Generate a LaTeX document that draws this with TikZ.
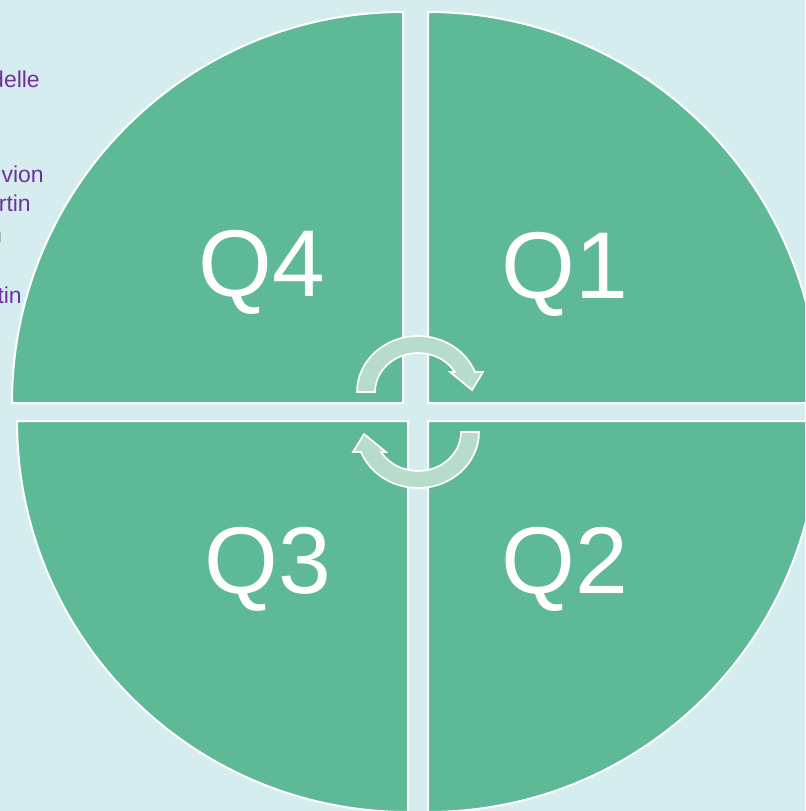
\documentclass[tikz,border=0pt]{standalone}
\usepackage{fontspec}
\setmainfont{Liberation Sans}
\usepackage{xcolor}
\usetikzlibrary{positioning}
\definecolor{cyclebg}{HTML}{D6EDF0}
\definecolor{cyclegreen}{HTML}{5EB996}
\definecolor{cyclelight}{HTML}{B8DCCB}
\definecolor{cyclepurple}{HTML}{7030A0}
\definecolor{cyclegray}{HTML}{808080}
\tikzset{
  quad/.style={fill=cyclegreen,draw=white,line width=0.06cm},
  qlabel/.style={text=white,font=\fontsize{81}{81}\selectfont,inner sep=0pt,anchor=base},
  turnarrow/.style={fill=cyclelight,draw=white,line width=0.05cm},
  sidenote/.style={text=cyclepurple,font=\fontsize{19.6}{22}\selectfont,inner sep=0pt,anchor=base east}
}

\begin{document}
\begin{tikzpicture}[x=0.03cm,y=-0.03cm]
    \useasboundingbox (0,0) rectangle (805,811);
    \fill[cyclebg] (0,0) rectangle (805,811);
    \clip (0,0) rectangle (805,811);
    % notes cut off at the left edge
    \node[sidenote] (note1) at (40,87) {delle};
    \node[sidenote] (note2) at (44,182) {vion};
    \node[sidenote] (note3) at (31,211) {rtin};
    \node[sidenote,text=cyclegray] (note4) at (2.5,242) {n};
    \node[sidenote] (note5) at (22,303) {tin};
    % quarters
    \draw[quad] (403,403) -- (12,403) arc[start angle=180,end angle=270,radius=391] -- cycle;
    \draw[quad] (428,403) -- (428,12) arc[start angle=270,end angle=360,radius=391] -- cycle;
    \draw[quad] (428,421) -- (819,421) arc[start angle=0,end angle=90,radius=391] -- cycle;
    \draw[quad] (408,421) -- (408,812) arc[start angle=90,end angle=180,radius=391] -- cycle;
    \node[qlabel] (q4) at (262,296) {Q4};
    \node[qlabel] (q1) at (565,298) {Q1};
    \node[qlabel] (q3) at (268,593) {Q3};
    \node[qlabel] (q2) at (565,593) {Q2};
    % turning arrows
    \foreach \turn in {0,180}{
      \begin{scope}[shift={(418,412)},rotate=\turn]
        \draw[turnarrow] (-61,-20) arc[start angle=180,end angle=339.1,x radius=61,y radius=56]
          -- (65,-40) -- (54,-22) -- (32,-40) -- (36.9,-40)
          arc[start angle=329.1,end angle=180,x radius=43,y radius=39] -- cycle;
      \end{scope}
    }
\end{tikzpicture}
\end{document}
